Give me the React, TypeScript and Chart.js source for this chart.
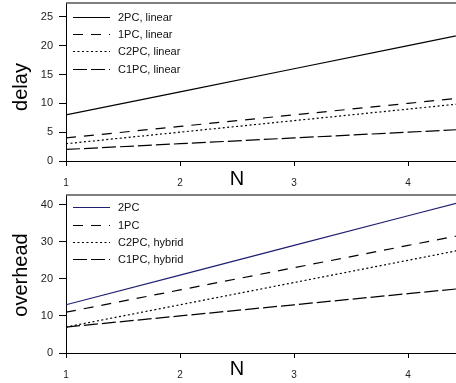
import { useEffect, useRef } from "react";
import { Chart, registerables } from "chart.js";

Chart.register(...registerables);

// ---- data ----
const N_VALUES = [1, 2, 3, 4, 5];
const X_TICKS = [1, 2, 3, 4];
const X_MIN = 1;
const X_MAX = 4.42;

const DELAY_TICKS = [0, 5, 10, 15, 20, 25];
const DELAY_MAX = 27.4;
const DELAY_LABELS = ["2PC, linear", "1PC, linear", "C2PC, linear", "C1PC, linear"];
const delay2PC = [8, 12, 16, 20, 24];
const delay1PC = [4, 6, 8, 10, 12];
const delayC2PC = [3, 5, 7, 9, 11];
const delayC1PC = [2, 3, 4, 5, 6];

const OVERHEAD_TICKS = [0, 10, 20, 30, 40];
const OVERHEAD_MAX = 42.6;
const OVERHEAD_LABELS = ["2PC", "1PC", "C2PC, hybrid", "C1PC, hybrid"];
const over2PC = [13, 21, 29, 37, 45];
const over1PC = [11, 17, 23, 29, 35];
const overC2PC = [7, 13, 19, 25, 31];
const overC1PC = [7, 10, 13, 16, 19];

// ---- styles ----
const FONT = '"Liberation Sans", Arial, Helvetica, sans-serif';
const DASHES: number[][] = [[], [10, 8], [2, 2.5], [14, 4]];

type PanelCfg = {
  width: number;
  height: number;
  padTop: number;
  xAxisHeight: number;
  yMax: number;
  yTicks: number[];
  labels: string[];
  series: number[][];
  colors: string[];
  yTitle: string;
  yTitleY: number;
  xTitleY: number;
  legendTop: number;
};

function overlayPlugin(cfg: PanelCfg) {
  return {
    id: "overlay",
    afterDraw(chart: any) {
      const { ctx, chartArea: a, scales } = chart;
      ctx.save();
      // top frame line
      ctx.strokeStyle = "#555";
      ctx.lineWidth = 1.5;
      ctx.beginPath();
      ctx.moveTo(a.left, a.top);
      ctx.lineTo(a.right, a.top);
      ctx.stroke();

      // legend inside plot
      chart.data.datasets.forEach((ds: any, i: number) => {
        const y = Math.round(a.top + cfg.legendTop + i * 17.2) + 0.5;
        ctx.strokeStyle = ds.borderColor;
        ctx.lineWidth = ds.borderWidth;
        ctx.setLineDash(ds.borderDash || []);
        ctx.beginPath();
        ctx.moveTo(a.left + 7, y);
        ctx.lineTo(a.left + 44, y);
        ctx.stroke();
        ctx.setLineDash([]);
        ctx.fillStyle = "#111";
        ctx.font = `11px ${FONT}`;
        ctx.textAlign = "left";
        ctx.textBaseline = "middle";
        ctx.fillText(ds.label, a.left + 52, y);
      });

      // y title
      ctx.save();
      ctx.translate(21, cfg.yTitleY);
      ctx.rotate(-Math.PI / 2);
      ctx.font = `20px ${FONT}`;
      ctx.fillStyle = "#000";
      ctx.textAlign = "center";
      ctx.textBaseline = "middle";
      ctx.fillText(cfg.yTitle, 0, 0);
      ctx.restore();

      // x title
      ctx.font = `20px ${FONT}`;
      ctx.fillStyle = "#000";
      ctx.textAlign = "center";
      ctx.textBaseline = "middle";
      ctx.fillText("N", scales.x.getPixelForValue(2.5), cfg.xTitleY);
      ctx.restore();
    },
  };
}

function Panel({ cfg }: { cfg: PanelCfg }) {
  const ref = useRef<HTMLCanvasElement>(null);
  useEffect(() => {
    if (!ref.current) return;
    const chart = new Chart(ref.current, {
      type: "line",
      data: {
        datasets: cfg.series.map((s, i) => ({
          label: cfg.labels[i],
          data: N_VALUES.map((n, j) => ({ x: n, y: s[j] })),
          borderColor: cfg.colors[i],
          backgroundColor: cfg.colors[i],
          borderWidth: 1.2,
          borderDash: DASHES[i],
          pointRadius: 0,
          fill: false,
          tension: 0,
        })),
      },
      options: {
        responsive: false,
        animation: false,
        layout: { padding: { top: cfg.padTop, left: 0, right: 0, bottom: 0 } },
        plugins: {
          legend: { display: false },
          tooltip: { enabled: false },
          title: { display: false },
        },
        scales: {
          x: {
            type: "linear",
            min: X_MIN,
            max: X_MAX,
            afterBuildTicks: (s: any) => {
              s.ticks = X_TICKS.map((v) => ({ value: v }));
            },
            afterFit: (s: any) => {
              s.height = cfg.xAxisHeight;
              s.paddingLeft = 0;
              s.paddingRight = 0;
              s.paddingTop = 0;
              s.paddingBottom = 0;
            },
            grid: {
              display: true,
              drawOnChartArea: false,
              drawTicks: true,
              tickLength: 5,
              color: "#000",
            },
            border: { display: true, color: "#000", width: 1 },
            ticks: {
              color: "#222",
              font: { family: FONT, size: 10 },
              padding: 11,
              maxRotation: 0,
              callback: (v: any) => String(v),
            },
          },
          y: {
            type: "linear",
            min: 0,
            max: cfg.yMax,
            afterBuildTicks: (s: any) => {
              s.ticks = cfg.yTicks.map((v) => ({ value: v }));
            },
            afterFit: (s: any) => {
              s.width = 66;
              s.paddingTop = 0;
              s.paddingBottom = 0;
              s.paddingLeft = 0;
              s.paddingRight = 0;
            },
            grid: {
              display: true,
              drawOnChartArea: false,
              drawTicks: true,
              tickLength: 7,
              color: "#000",
            },
            border: { display: true, color: "#000", width: 1 },
            ticks: {
              color: "#222",
              font: { family: FONT, size: 11 },
              padding: 6,
              callback: (v: any) => String(v),
            },
          },
        },
      },
      plugins: [overlayPlugin(cfg)],
    } as any);
    return () => chart.destroy();
  }, [cfg]);
  return (
    <canvas
      ref={ref}
      width={cfg.width}
      height={cfg.height}
      style={{ display: "block", width: cfg.width, height: cfg.height }}
    />
  );
}

const TOP: PanelCfg = {
  width: 456,
  height: 190,
  padTop: 3,
  xAxisHeight: 29,
  yMax: DELAY_MAX,
  yTicks: DELAY_TICKS,
  labels: DELAY_LABELS,
  series: [delay2PC, delay1PC, delayC2PC, delayC1PC],
  colors: ["#000", "#000", "#000", "#000"],
  yTitle: "delay",
  yTitleY: 87,
  xTitleY: 179,
  legendTop: 14,
};

const BOTTOM: PanelCfg = {
  width: 456,
  height: 193,
  padTop: 5,
  xAxisHeight: 30,
  yMax: OVERHEAD_MAX,
  yTicks: OVERHEAD_TICKS,
  labels: OVERHEAD_LABELS,
  series: [over2PC, over1PC, overC2PC, overC1PC],
  colors: ["#1f1f70", "#000", "#000", "#000"],
  yTitle: "overhead",
  yTitleY: 85,
  xTitleY: 179.5,
  legendTop: 12.3,
};

export default function App() {
  return (
    <div
      style={{
        position: "absolute",
        left: 0,
        top: 0,
        width: 456,
        height: 383,
        background: "#fff",
        overflow: "hidden",
      }}
    >
      <Panel cfg={TOP} />
      <Panel cfg={BOTTOM} />
    </div>
  );
}
